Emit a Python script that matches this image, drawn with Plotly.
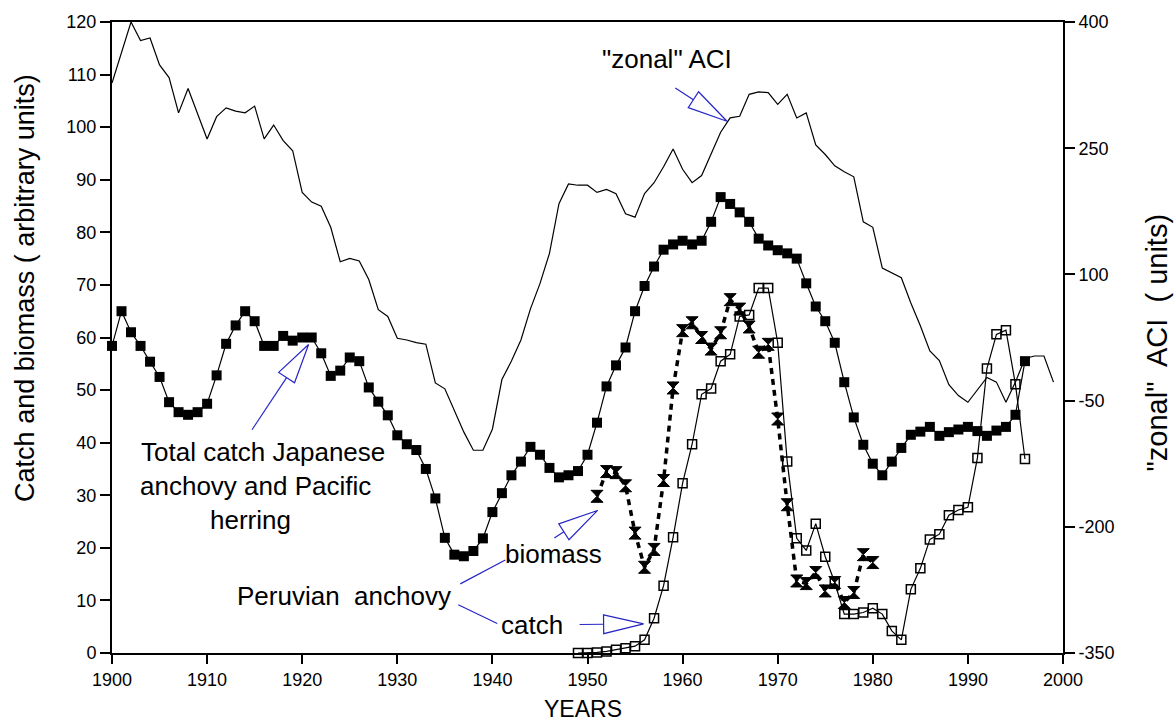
import math
import plotly.graph_objects as go

# ---------------- data ----------------
aci_years = list(range(1900, 2000))
aci_values = [
    327.5, 362.5, 400, 378, 381, 349, 334, 292, 321, 291,
    261, 287.5, 298, 294, 292, 300, 261, 277.5, 259, 247,
    197.5, 186, 181, 156, 115, 119, 116, 94, 58, 50,
    24, 22, 19, 17, -29, -36, -62.5, -87.5, -109, -109,
    -84, -25, -3, 22, 59, 89, 125, 184, 207.5, 206,
    206, 197.5, 201, 196, 172, 168, 196, 209, 228, 249,
    225, 209, 217.5, 244, 269, 286, 288, 314, 317, 316,
    302, 314, 286, 292, 254, 242.5, 229, 222, 216, 162.5,
    156, 107.5, 102, 96, 66, 39, 9, -2.5, -31, -44,
    -52, -37.5, -22.5, -28, -52, -28, 0, 3, 3, -28,
]

japan_years = list(range(1900, 1997))
japan_catch = [
    58.4, 65, 61, 58.4, 55.4, 52.5, 47.7, 45.8, 45.3, 45.8,
    47.4, 52.8, 58.8, 62.3, 65, 63.1, 58.4, 58.4, 60.3, 59.4,
    60, 60, 57, 52.7, 53.7, 56.2, 55.5, 50.5, 47.8, 45.2,
    41.4, 39.7, 38.6, 35, 29.4, 21.9, 18.7, 18.4, 19.4, 21.8,
    26.8, 30.4, 33.8, 36.4, 39.2, 37.7, 35.2, 33.4, 33.8, 34.6,
    37.7, 43.8, 50.7, 54.7, 58.1, 65, 69.8, 73.5, 76.7, 77.7,
    78.4, 77.7, 78.4, 82, 86.7, 85.4, 83.8, 82, 78.8, 77.5,
    76.6, 76, 75, 70.3, 65.9, 63.1, 59, 51.5, 44.8, 39.6,
    36, 33.8, 36.4, 39, 41.5, 42.1, 43, 41.3, 42, 42.5,
    43, 42.2, 41.3, 42.3, 43, 45.3, 55.5,
]

peru_catch_years = list(range(1949, 1997))
peru_catch = [
    0, 0, 0.1, 0.3, 0.6, 0.9, 1.3, 2.5, 6.6, 12.8,
    22, 32.3, 39.7, 49.2, 50.3, 55.5, 56.8, 64, 64.3, 69.4,
    69.4, 59, 36.4, 21.8, 19.5, 24.6, 18.3, 13.4, 7.4, 7.4,
    7.7, 8.5, 7.4, 4.2, 2.5, 12.1, 16.1, 21.6, 22.6, 26.2,
    27.2, 27.7, 37.1, 54.1, 60.6, 61.4, 51.1, 36.9,
]

peru_biomass_years = list(range(1951, 1981))
peru_biomass = [
    29.8, 34.5, 34.3, 31.8, 22.8, 16.3, 19.7, 32.8, 50.4, 61.3,
    62.8, 60, 57.8, 60.9, 67.2, 65.4, 62, 57.2, 58.7, 44.5,
    28.2, 13.7, 13.2, 15.3, 11.8, 13.4, 9.6, 11.5, 18.7, 17.2,
]

x_ticks = list(range(1900, 2001, 10))
y_ticks = list(range(0, 121, 10))
y2_ticks = [-350, -200, -50, 100, 250, 400]
y2_ticktext = ["-350", "-200", "-50", "100", "250", "400"]

# ---------------- layout geometry ----------------
W, H = 1176, 723
ML, MR, MT, MB = 112, 113, 17, 70
X_RANGE = (1900, 2000)
Y_RANGE = (0, 120)
PX_X = (W - ML - MR) / (X_RANGE[1] - X_RANGE[0])
PX_Y = (H - MT - MB) / (Y_RANGE[1] - Y_RANGE[0])

FONT = "Liberation Sans, Arial, sans-serif"
BLUE = "#2626c8"

fig = go.Figure()

fig.add_trace(go.Scatter(
    x=aci_years, y=aci_values, yaxis="y2", mode="lines",
    line=dict(color="black", width=1.2), showlegend=False, cliponaxis=False,
))
fig.add_trace(go.Scatter(
    x=japan_years, y=japan_catch, mode="lines+markers",
    line=dict(color="black", width=1.2),
    marker=dict(symbol="square", size=10, color="black"),
    showlegend=False, cliponaxis=False,
))
fig.add_trace(go.Scatter(
    x=peru_catch_years, y=peru_catch, mode="lines+markers",
    line=dict(color="black", width=1.2),
    marker=dict(symbol="square-open", size=9, color="black",
                line=dict(width=1.5, color="black")),
    showlegend=False, cliponaxis=False,
))
fig.add_trace(go.Scatter(
    x=peru_biomass_years, y=peru_biomass, mode="lines+markers",
    line=dict(color="black", width=3.5, dash="6px,5px"),
    marker=dict(symbol="hourglass", size=12, color="black",
                line=dict(width=1, color="black")),
    showlegend=False, cliponaxis=False,
))


def open_arrow(x0, y0, x1, y1, head_len=40, half_w=9.5):
    dxp = (x1 - x0) * PX_X
    dyp = (y1 - y0) * PX_Y
    L = math.hypot(dxp, dyp)
    ux, uy = dxp / L, dyp / L
    bx, by = -head_len * ux, -head_len * uy
    nx, ny = -uy, ux

    def to_data(px, py):
        return x1 + px / PX_X, y1 + py / PX_Y
    b = to_data(bx, by)
    v1 = to_data(bx + half_w * nx, by + half_w * ny)
    v2 = to_data(bx - half_w * nx, by - half_w * ny)
    return [
        dict(type="line", xref="x", yref="y", x0=x0, y0=y0, x1=b[0], y1=b[1],
             line=dict(color=BLUE, width=1.2)),
        dict(type="path", xref="x", yref="y",
             path=f"M {v1[0]},{v1[1]} L {x1},{y1} L {v2[0]},{v2[1]} Z",
             line=dict(color=BLUE, width=1.2), fillcolor="rgba(0,0,0,0)"),
    ]


shapes = []
shapes += open_arrow(1959.23, 107.43, 1964.67, 101.13)
shapes += open_arrow(1914.72, 42.45, 1920.67, 58.68)
shapes += open_arrow(1946.51, 21.89, 1951.06, 27.11)
shapes += open_arrow(1949.17, 5.42, 1955.90, 5.55)
shapes.append(dict(type="line", xref="x", yref="y", x0=1936.62, y0=13.15,
                   x1=1941.36, y1=17.68, line=dict(color=BLUE, width=1.2)))
shapes.append(dict(type="line", xref="x", yref="y", x0=1936.41, y0=9.19,
                   x1=1940.51, y1=5.6, line=dict(color=BLUE, width=1.2)))

af = dict(family=FONT, size=26, color="black")
annotations = [
    dict(x=1958.36, y=112.9, text='"zonal" ACI', xanchor="center", yanchor="middle"),
    dict(x=1902.8, y=38.25, text="Total catch Japanese", xanchor="left", yanchor="middle"),
    dict(x=1902.77, y=31.8, text="anchovy and Pacific", xanchor="left", yanchor="middle"),
    dict(x=1910.13, y=25.2, text="herring", xanchor="left", yanchor="middle"),
    dict(x=1924.43, y=10.9, text="Peruvian\u00a0 anchovy", xanchor="center", yanchor="middle"),
    dict(x=1946.44, y=18.8, text="biomass", xanchor="center", yanchor="middle"),
    dict(x=1944.2, y=5.4, text="catch", xanchor="center", yanchor="middle"),
]
for a in annotations:
    a.update(xref="x", yref="y", showarrow=False, font=af)

annotations += [
    dict(xref="paper", yref="paper", x=(583 - ML) / (W - ML - MR), y=-(709 - (H - MB)) / (H - MT - MB),
         text="YEARS", showarrow=False, xanchor="center", yanchor="middle",
         font=dict(family=FONT, size=23, color="black")),
    dict(xref="paper", yref="paper", x=(25 - ML) / (W - ML - MR), y=((H - MB) - 285) / (H - MT - MB),
         text="Catch and biomass ( arbitrary units)", textangle=-90, showarrow=False,
         xanchor="center", yanchor="middle",
         font=dict(family=FONT, size=27, color="black")),
    dict(xref="paper", yref="paper", x=(1157 - ML) / (W - ML - MR), y=((H - MB) - 340) / (H - MT - MB),
         text='"zonal"\u00a0 ACI\u00a0 ( units)', textangle=-90, showarrow=False,
         xanchor="center", yanchor="middle",
         font=dict(family=FONT, size=29, color="black")),
]

axis_common = dict(showgrid=False, zeroline=False, showline=True, linecolor="black",
                   linewidth=2, ticks="outside", tickcolor="black", tickwidth=1.5,
                   tickfont=dict(family=FONT, size=18, color="black"))

fig.update_layout(
    width=W, height=H,
    margin=dict(l=ML, r=MR, t=MT, b=MB),
    paper_bgcolor="white", plot_bgcolor="white",
    xaxis=dict(range=list(X_RANGE), tickvals=x_ticks, ticklen=9, mirror=True, **axis_common),
    yaxis=dict(range=list(Y_RANGE), tickvals=y_ticks, ticklen=10, **axis_common),
    yaxis2=dict(range=[-350, 400], tickvals=y2_ticks, ticktext=y2_ticktext, ticklen=10,
                overlaying="y", side="right", **axis_common),
    shapes=shapes,
    annotations=annotations,
    showlegend=False,
)

fig.write_html("out.html")
